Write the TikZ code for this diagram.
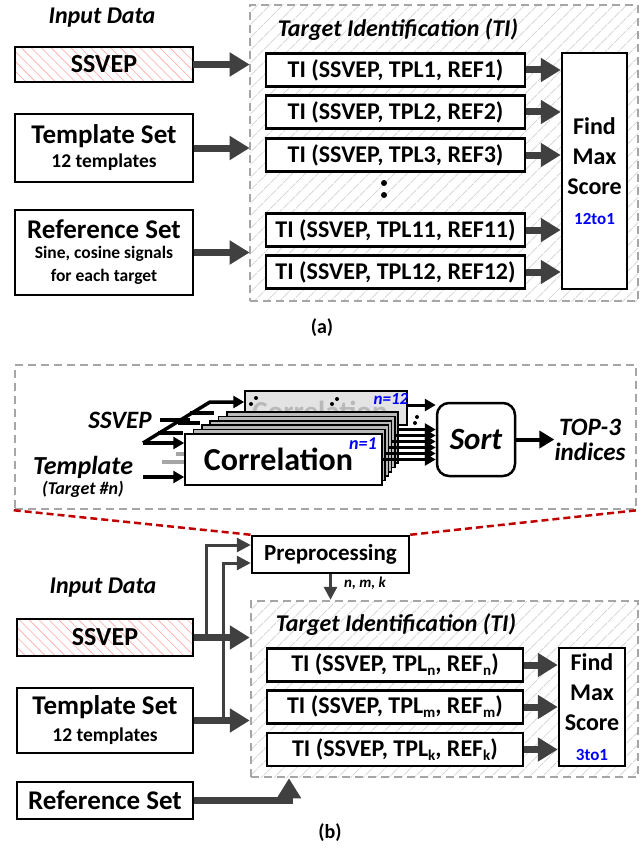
\documentclass[tikz,border=0pt]{standalone}
\usepackage{fontspec}
\setmainfont{Carlito}
\usetikzlibrary{arrows.meta,patterns.meta,calc}
\definecolor{dk}{HTML}{404040}
\definecolor{dgray}{HTML}{A6A6A6}
\definecolor{dred}{HTML}{C00000}
\newcommand{\fsz}[2]{\fontsize{#1}{#2}\selectfont}
\newcommand{\sbs}[1]{\raisebox{-0.35ex}{\fsz{15}{15}#1}}
\begin{document}
\begin{tikzpicture}[x=1pt,y=-1pt,
  box/.style={draw=black, line width=2.5pt, fill=white, inner sep=0pt, align=center, font=\bfseries\fsz{24}{26}},
  bigbox/.style={box, font=\bfseries\fsz{27}{28}},
  findbox/.style={box, font=\bfseries\fsz{24}{30}},
  redhatch/.style={pattern={Lines[angle=-45,distance=7pt,line width=0.6pt]}, pattern color=red!35},
  tiregion/.style={draw=dgray, line width=2.5pt, dash pattern=on 8pt off 5pt, inner sep=0pt, pattern={Lines[angle=45,distance=9pt,line width=0.7pt]}, pattern color=gray!35},
  bigarrow/.style={draw=dk, line width=7pt, -{Triangle[length=20pt,width=23pt]}},
  thinarrow/.style={draw=dk, line width=3pt, -{Triangle[length=14pt,width=14pt]}},
  blkarrow/.style={draw=black, line width=3.5pt, -{Triangle[length=11pt,width=12pt]}},
  lbl/.style={font=\bfseries\itshape\fsz{24}{26}, inner sep=0pt},
  corr/.style={draw=black, line width=1.5pt, inner sep=0pt, minimum height=51pt},
  dotc/.style={fill=black},
]
\fill[white] (0,0) rectangle (641,848);
\useasboundingbox (0,0) rectangle (641,848);

% ===================== (a) =====================
\node[lbl] (inA) at (102,18) {Input Data};
\node[tiregion, minimum width=388pt, minimum height=296pt] (tiA) at (444,153) {};
\node[lbl] (tiAt) at (398,30) {Target Identification (TI)};

\node[box, redhatch, minimum width=178pt, minimum height=35pt, font=\bfseries\fsz{26}{27}] (ssvepA) at (104,64.5) {SSVEP};
\node[bigbox, minimum width=178pt, minimum height=68pt] (tplA) at (104,148) {\raisebox{-2pt}{Template Set}\\[-2pt]{\fsz{19.5}{21}12 templates}};
\node[bigbox, minimum width=178pt, minimum height=85pt] (refA) at (104,252.5) {Reference Set\\[-8pt]{\fsz{17.5}{22}Sine, cosine signals}\\[-5pt]{\fsz{17.5}{22}for each target}\\[-24pt]\mbox{}};

\node[findbox, minimum width=65pt, minimum height=236pt] (findA) at (594.5,171) {Find\\Max\\Score\\{\color{blue}\fsz{17}{20}12to1}};

\foreach \n/\y in {1/70,2/112,3/155,11/230,12/272}{
  \node[box, minimum width=259pt, minimum height=33pt] (tiA\n) at (395.5,\y) {TI (SSVEP, TPL\n, REF\n)};
  \draw[bigarrow] (tiA\n.east) -- (tiA\n.east -| findA.west);
}
\fill[dotc] (384,183) circle (3pt);
\fill[dotc] (384,195) circle (3pt);

\draw[bigarrow] (ssvepA.east) -- (ssvepA.east -| tiA.west);
\draw[bigarrow] (tplA.east) -- (tplA.east -| tiA.west);
\draw[bigarrow] (refA.east) -- (refA.east -| tiA.west);

\node[font=\bfseries\fsz{20}{22}] (la) at (322,328) {(a)};

% ===================== zoom box =====================
\node[draw=dgray, line width=2.5pt, dash pattern=on 8pt off 5pt, minimum width=621pt, minimum height=144pt, inner sep=0pt] (zoomB) at (325.5,437) {};

\node[lbl, font=\bfseries\itshape\fsz{25}{26}] (sslbl) at (120,420) {SSVEP};
\node[lbl, font=\bfseries\itshape\fsz{26}{27}] (tmpl) at (83,467) {Template};
\node[font=\bfseries\itshape\fsz{18}{20}, inner sep=0pt] (tgt) at (83,489) {(Target \#n)};

% n=12 back box
\node[corr, fill=gray!22, minimum width=162pt, minimum height=34pt] (c12) at (326,408) {};
\node[font=\bfseries\fsz{29}{30}, text=gray!55, inner sep=0pt] (c12t) at (320,411) {Correlation};
\node[font=\bfseries\itshape\fsz{17}{18}, text=blue, inner sep=0pt] (n12) at (391,399) {n=12};
\fill[dotc] (256,398) circle (2pt); \fill[dotc] (251,404) circle (2pt);
\fill[dotc] (337,399) circle (2pt); \fill[dotc] (332,404) circle (2pt);

% gray/black stubs
\draw[gray!70, line width=3.5pt] (162,462) -- (185,462);
\draw[gray!70, line width=3.5pt] (176,454) -- (190,454);
\draw[black, line width=3.5pt] (190,413) -- (214,413);
\draw[black, line width=3.5pt] (178,423) -- (200,423);
\draw[black, line width=3.5pt] (158,433) -- (183,433);

% intermediate layers
\node[corr, fill=gray!55, minimum width=171pt] (L5) at (312.5,437.5) {};
\node[corr, fill=gray!55, minimum width=176.2pt] (L4) at (306.7,441.9) {};
\node[corr, fill=gray!55, minimum width=181.4pt] (L3) at (300.9,446.3) {};
\node[corr, fill=gray!55, minimum width=186.6pt] (L2) at (295.1,450.7) {};
\node[corr, fill=gray!55, minimum width=191.8pt] (L1) at (289.3,455.1) {};
\node[corr, fill=white, minimum width=197pt, font=\bfseries\fsz{32}{33}] (L0) at (283.5,459.5) {\raisebox{-2pt}{Correlation}\hspace*{10pt}};
\node[font=\bfseries\itshape\fsz{18}{18}, text=blue, inner sep=0pt] (n1) at (363,444) {n=1};

% inputs
\coordinate (dA) at (143,443);
\coordinate (dB) at (210,402);
\coordinate (tA) at (143,477);
\draw[black, line width=3.5pt] ([xshift=8pt]sslbl.east) -- ++(30,0);
\draw[blkarrow, line join=round] (dA) -- (dB) -- (dB -| c12.west);
\draw[blkarrow] (dA) -- (dA -| L0.west);
\draw[blkarrow] (tA) -- (tA -| L0.west);

% sort
\node[draw, line width=2.5pt, rounded corners=12pt, minimum width=78pt, minimum height=73pt, inner sep=0pt, font=\bfseries\itshape\fsz{31}{33}] (sort) at (476,439.5) {Sort};
\node[align=center, inner sep=0pt, font=\bfseries\itshape\fsz{25}{25}] (top3) at (590,440) {TOP-3\\indices};

\draw[blkarrow, line width=3pt] ([yshift=3pt]c12.east) coordinate (o12) -- (o12 -| sort.west);
\fill[dotc] (417,417) circle (2pt); \fill[dotc] (415,423) circle (2pt);
\draw[blkarrow, line width=3pt] (L0.east) coordinate (o0) -- (o0 -| sort.west);
\draw[blkarrow, line width=3pt] ([yshift=1.6pt]L1.east) coordinate (o1) -- (o1 -| sort.west);
\draw[blkarrow, line width=3pt] ([yshift=3.2pt]L2.east) coordinate (o2) -- (o2 -| sort.west);
\draw[blkarrow, line width=3pt] ([yshift=4.8pt]L3.east) coordinate (o3) -- (o3 -| sort.west);
\draw[blkarrow, line width=3pt] ([yshift=6.4pt]L4.east) coordinate (o4) -- (o4 -| sort.west);
\draw[blkarrow, line width=3pt] ([yshift=8pt]L5.east) coordinate (o5) -- (o5 -| sort.west);
\draw[blkarrow, line width=4pt, -{Triangle[length=15pt,width=17pt]}] (sort.east) -- (sort.east -| top3.west);

% ===================== (b) =====================
\node[box, minimum width=157pt, minimum height=37pt, font=\bfseries\fsz{23}{24}] (pre) at (330.5,554.5) {Preprocessing};
\draw[dred, line width=2.5pt, dash pattern=on 7pt off 4pt] (zoomB.south west) -- (pre.north west);
\draw[dred, line width=2.5pt, dash pattern=on 7pt off 4pt] (pre.north east) -- (zoomB.south east);

\node[lbl] (inB) at (103,588) {Input Data};
\node[tiregion, minimum width=387pt, minimum height=176pt] (tiB) at (444.5,689) {};
\node[lbl] (tiBt) at (396,625) {Target Identification (TI)};

\node[box, redhatch, minimum width=176pt, minimum height=37pt, font=\bfseries\fsz{26}{27}] (ssvepB) at (105,637.5) {SSVEP};
\node[bigbox, minimum width=176pt, minimum height=65pt] (tplB) at (105,720.5) {Template Set\\[-1pt]{\fsz{19.5}{21}12 templates}};
\node[bigbox, minimum width=176pt, minimum height=37pt] (refB) at (105,800.5) {Reference Set};

\node[findbox, minimum width=66pt, minimum height=118pt] (findB) at (592,707) {Find\\Max\\Score\\{\color{blue}\fsz{17}{20}3to1}};
\node[box, minimum width=256pt, minimum height=33pt] (tiBn) at (395,665) {TI (SSVEP, TPL\sbs{n}, REF\sbs{n})};
\node[box, minimum width=256pt, minimum height=33pt] (tiBm) at (395,707) {TI (SSVEP, TPL\sbs{m}, REF\sbs{m})};
\node[box, minimum width=256pt, minimum height=33pt] (tiBk) at (395,749.5) {TI (SSVEP, TPL\sbs{k}, REF\sbs{k})};
\foreach \n in {n,m,k}{
  \draw[bigarrow] (tiB\n.east) -- (tiB\n.east -| findB.west);
}

\draw[bigarrow] (ssvepB.east) -- (ssvepB.east -| tiB.west);
\draw[bigarrow] (tplB.east) -- (tplB.east -| tiB.west);
\coordinate (rc) at (289,800.5);
\draw[bigarrow] (refB.east) -- (rc) -- (rc |- tiB.south);

\coordinate (p1) at (206,545);
\coordinate (p2) at (223,563);
\draw[thinarrow] (ssvepB.east -| p1) -- (p1) -- (p1 -| pre.west);
\draw[thinarrow] (tplB.east -| p2) -- (p2) -- (p2 -| pre.west);
\draw[thinarrow, -{Triangle[length=13pt,width=13pt]}] (pre.south) -- (pre.south |- tiB.north);
\node[font=\bfseries\itshape\fsz{15}{16}, inner sep=0pt] (nmk) at (365,583) {n, m, k};

\node[font=\bfseries\fsz{20}{22}] (lb) at (330,833) {(b)};
\end{tikzpicture}
\end{document}
